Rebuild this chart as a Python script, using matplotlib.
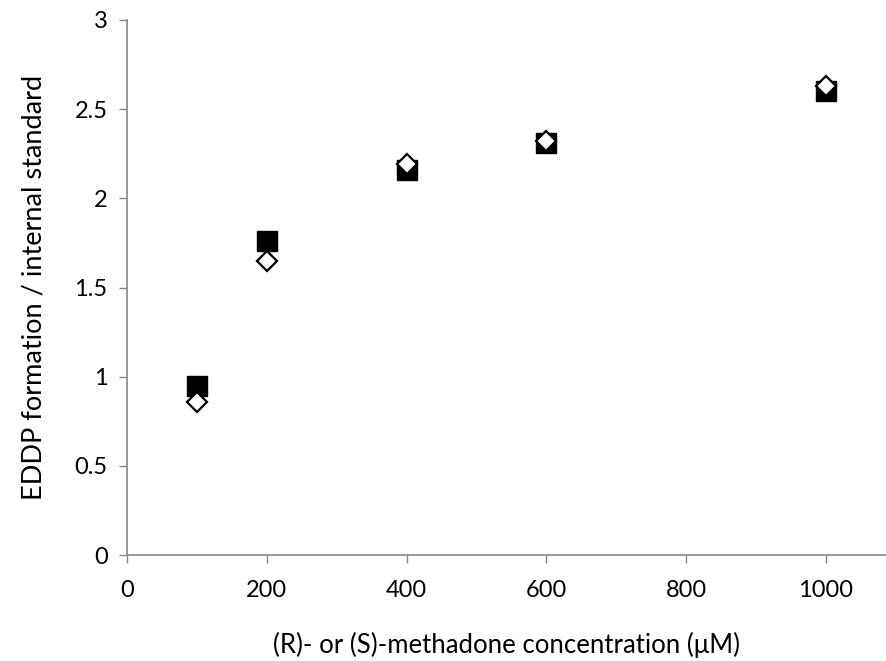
import matplotlib
matplotlib.use("Agg")
import matplotlib.pyplot as plt

# methadone concentration (uM) and EDDP / internal standard ratio
conc = [100, 200, 400, 600, 1000]
r_methadone = [0.95, 1.76, 2.16, 2.31, 2.60]
s_methadone = [0.86, 1.65, 2.19, 2.32, 2.63]

x_ticks = [0, 200, 400, 600, 800, 1000]
y_ticks = [0, 0.5, 1, 1.5, 2, 2.5, 3]

plt.rcParams['font.family'] = ['Lato', 'DejaVu Sans']
axis_grey = '#868686'

fig = plt.figure(figsize=(8.86, 6.61), dpi=100)
ax = fig.add_axes([127 / 886, 1 - 555 / 661, 1 - 127 / 886, 535 / 661])

ax.plot(conc, r_methadone, linestyle='none', marker='s', markersize=14,
        color='black', clip_on=False, zorder=3)
ax.plot(conc, s_methadone, linestyle='none', marker='D', markersize=10,
        markerfacecolor='white', markeredgecolor='black', markeredgewidth=1.6,
        clip_on=False, zorder=4)

ax.set_xlim(0, 1086)
ax.set_ylim(0, 3)
ax.set_xticks(x_ticks)
ax.set_yticks(y_ticks)
ax.set_yticklabels(['0', '0.5', '1', '1.5', '2', '2.5', '3'])

for side in ('top', 'right'):
    ax.spines[side].set_visible(False)
for side in ('left', 'bottom'):
    ax.spines[side].set_color(axis_grey)
    ax.spines[side].set_linewidth(1.2)

ax.tick_params(axis='both', direction='out', length=6, width=1,
               color=axis_grey, labelsize=17, labelcolor='black')
ax.tick_params(axis='x', pad=12)
ax.tick_params(axis='y', pad=8)

ax.set_xlabel('(R)- or (S)-methadone concentration (\u03bcM)', fontsize=18.5,
              labelpad=22)
ax.set_ylabel('EDDP formation / internal standard', fontsize=19.5, labelpad=20)

fig.savefig('out.png', dpi=100)
